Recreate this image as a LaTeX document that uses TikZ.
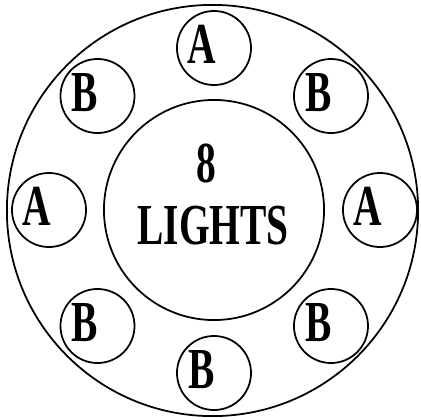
\documentclass[tikz,border=0pt]{standalone}
\usepackage{fontspec}
\newfontfamily\lampfont{Liberation Serif}[FakeStretch=0.68]
\usepackage{tikz}
\usetikzlibrary{positioning}
\usetikzlibrary{calc}

\begin{document}
\begin{tikzpicture}[
    x=0.01cm, y=0.01cm,
    ring/.style={
      draw=black,
      line width=0.5pt,
      circle,
      inner sep=0pt
    },
    lamp/.style={
      ring,
      minimum size=0.74cm
    },
    lamplabel/.style={
      inner sep=0pt,
      font=\lampfont\bfseries\fontsize{16.5}{20}\selectfont
    }
  ]
  \useasboundingbox (0,0) rectangle (420,420);

  \begin{scope}
    \node[ring, minimum size=4.11cm] (outer) at (212.5,209.5) {};
    \node[ring, minimum size=2.2cm] (inner) at (214,210) {};

    \node[lamplabel] (eight) at (206.5,257) {8};
    \node[lamplabel] (lights) at (213,194.5) {LIGHTS};
  \end{scope}

  % lamps round the ring
  \foreach \name/\pos/\txt in {
      a1/{(214,372)}/A, b1/{(331,324)}/B, a2/{(380,210)}/A, b2/{(331,94)}/B,
      b3/{(214,47)}/B, b4/{(97.5,94)}/B, a3/{(49,210)}/A, b5/{(97.5,324)}/B} {
    \node[lamp] (\name) at \pos {};
    \node[lamplabel] at ($(\name.center)+(-12.5,3.5)$) {\txt};
  }

\end{tikzpicture}
\end{document}
